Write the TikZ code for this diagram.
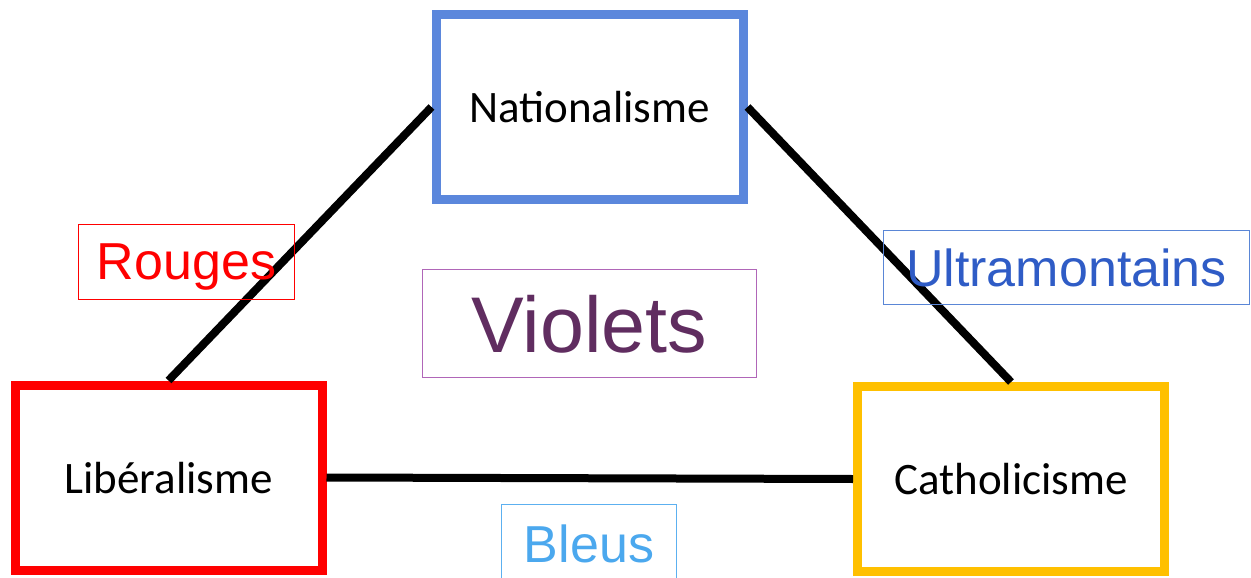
\documentclass[tikz,border=0pt]{standalone}
\usepackage{fontspec}
\setmainfont{Carlito}
\newfontfamily\labelfont{Liberation Sans}
\definecolor{natblue}{HTML}{5B87DC}
\definecolor{libred}{HTML}{FF0000}
\definecolor{cathgold}{HTML}{FFC000}
\definecolor{ultrablue}{HTML}{2F5CC6}
\definecolor{ultraline}{HTML}{5A86D6}
\definecolor{violettext}{HTML}{602D60}
\definecolor{violetline}{HTML}{B066B8}
\definecolor{bleustext}{HTML}{4BA8EE}
\definecolor{bleusline}{HTML}{5CB0F0}
\begin{document}
\begin{tikzpicture}[x=1pt,y=-1pt,
    main node/.style={rectangle,draw,line width=9pt,minimum width=307pt,minimum height=185pt,inner sep=0pt,text depth=0pt,font=\fontsize{45}{54}\selectfont},
    group node/.style={rectangle,draw,line width=1pt,inner sep=0pt,text depth=0pt,font=\labelfont\fontsize{52}{62}\selectfont}]
    \clip (0,0) rectangle (1251,578);
    \node[main node,natblue,text=black] at (589.5,107) (nat) {Nationalisme};
    \node[main node,libred,text=black] at (168.5,477.5) (lib) {Libéralisme};
    \node[main node,cathgold,text=black] at (1011,479) (cath) {Catholicisme};

    \path[line width=8pt]
        (nat.west) edge (lib.north)
        (nat.east) edge (cath.north)
        (lib.east) edge (cath.west)
        ;

    \node[group node,libred,minimum width=216pt,minimum height=75pt] at (186.5,262) (rouges) {Rouges};
    \node[group node,ultraline,text=ultrablue,minimum width=366pt,minimum height=74pt] at (1066.5,267.5) (ultra) {Ultramontains};
    \node[group node,violetline,text=violettext,minimum width=334pt,minimum height=108pt,font=\labelfont\fontsize{79}{95}\selectfont] at (589.5,323.5) (violets) {Violets};
    \node[group node,bleusline,text=bleustext,minimum width=175pt,minimum height=78pt] at (589,543.5) (bleus) {Bleus};
\end{tikzpicture}
\end{document}
